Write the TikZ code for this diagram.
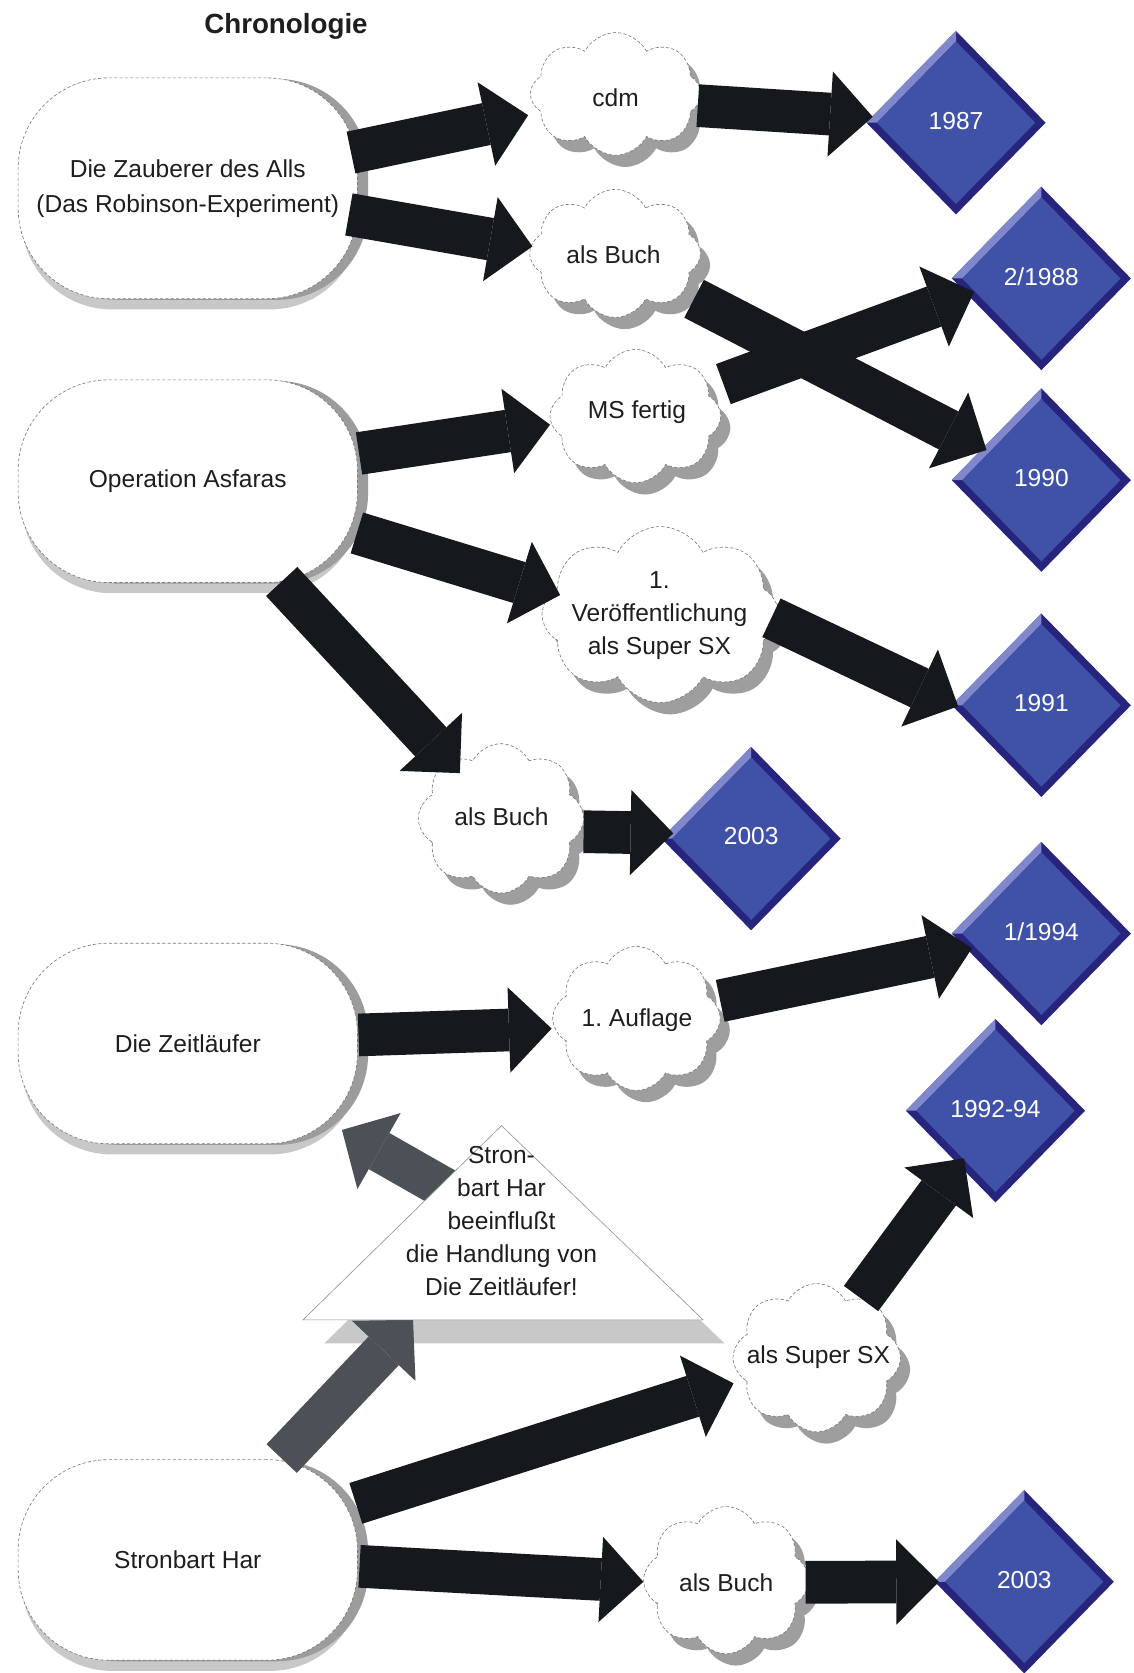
\documentclass[tikz,border=0pt]{standalone}
\usepackage{fontspec}
\setmainfont{Liberation Sans}
\usetikzlibrary{shapes.geometric,shapes.symbols,shadows,calc,arrows.meta}
\frenchspacing
\definecolor{arrblack}{HTML}{15181C}
\definecolor{arrgray}{HTML}{4B5157}
\definecolor{navy}{HTML}{26247C}
\definecolor{dblue}{HTML}{4052A8}
\definecolor{bevel}{HTML}{8088CC}
\definecolor{shlight}{HTML}{C8C8C8}
\definecolor{shdark}{HTML}{9C9C9C}
\definecolor{cloudsh}{HTML}{9E9E9E}
\definecolor{outl}{HTML}{7A7A7A}
\definecolor{txt}{HTML}{1E1E1E}
\tikzset{
  lbl/.style={font=\fontsize{23}{31}\selectfont, text=txt, align=center, inner sep=0pt},
  box/.style={rectangle, rounded corners=85pt, minimum width=318pt, fill=white, draw=outl,
     dash pattern=on 3pt off 2pt, line width=0.6pt, align=center, text=txt,
     font=\fontsize{23}{33}\selectfont,
     general shadow={shadow xshift=3pt, shadow yshift=-10pt, fill=shlight, draw=none},
     general shadow={shadow xshift=10pt, shadow yshift=-1pt, fill=shdark, draw=none}},
  cloudbox/.style={cloud, cloud puffs=8, cloud puff arc=125, cloud ignores aspect, inner sep=0pt,
     fill=white, draw=outl, dash pattern=on 3pt off 2pt, line width=0.6pt,
     general shadow={shadow xshift=9pt, shadow yshift=-11pt, fill=cloudsh, draw=none}},
  ydiam/.style={diamond, minimum width=168pt, minimum height=172pt, inner sep=0pt, fill=navy},
  ytxt/.style={font=\fontsize{23}{31}\selectfont, text=white, inner sep=0pt},
  blk/.style={draw=arrblack, line width=40pt, -{Triangle[length=40pt,width=80pt,line width=0pt]}},
  gblk/.style={draw=arrgray, line width=39pt, -{Triangle[length=40pt,width=82pt,line width=0pt]}},
}
\newcommand\ydia[3]{%
  \node[ydiam] (#1) at (#2) {};
  \fill[bevel] (#1.west) -- (#1.north) -- ($(#1.north)+(0,10)$) -- ($(#1.west)+(10,0)$) -- cycle;
  \fill[dblue] ($(#1.west)+(10,0)$) -- ($(#1.north)+(0,10)$) -- ($(#1.east)+(-10,0)$) -- ($(#1.south)+(0,-10)$) -- cycle;
  \node[ytxt] (#1t) at ($(#1)+(0,-2)$) {#3};
}
\begin{document}
\begin{tikzpicture}[x=1pt,y=-1pt]
\useasboundingbox (0,0) rectangle (1062,1568);
\fill[white] (0,0) rectangle (1062,1568);

\node[font=\bfseries\fontsize{26}{30}\selectfont, text=txt, inner sep=0pt] (title) at (268,25) {Chronologie};

% triangle shadow
\coordinate (tA) at (470,1055);
\coordinate (tL) at (284,1237);
\coordinate (tR) at (659,1237);
\fill[shlight] ($(tA)+(20,22)$) -- ($(tL)+(20,22)$) -- ($(tR)+(20,22)$) -- cycle;

% boxes
\node[box, minimum height=207pt] (b1) at (176,176.5) {Die Zauberer des Alls\\(Das Robinson-Experiment)};
\node[box, minimum height=190pt] (b2) at (176,451) {Operation Asfaras};
\node[box, minimum height=188pt] (b3) at (176,978) {Die Zeitläufer};
\node[box, minimum height=188pt] (b4) at (176,1462) {Stronbart Har};

% clouds
\node[cloudbox, minimum width=160pt, minimum height=115pt] (cdm) at (577,88) {};
\node[lbl] (cdmt) at (577,92) {cdm};
\node[cloudbox, minimum width=160pt, minimum height=120pt] (buch1) at (576.5,237.5) {};
\node[lbl] (buch1t) at (575,239) {als Buch};
\node[cloudbox, minimum width=160pt, minimum height=125pt] (ms) at (595.5,390) {};
\node[lbl] (mst) at (597,386) {MS fertig};
\node[cloudbox, minimum width=222pt, minimum height=165pt] (ver) at (619,576) {};
\node[lbl] (vert) at (618,577) {1.\\Veröffentlichung\\als Super SX};
\node[cloudbox, minimum width=155pt, minimum height=140pt] (buch2) at (469.5,767) {};
\node[lbl] (buch2t) at (470,765.5) {als Buch};
\node[cloudbox, minimum width=157pt, minimum height=135pt] (aufl) at (596.5,954.5) {};
\node[lbl] (auflt) at (597,956) {1. Auflage};
\node[cloudbox, minimum width=157pt, minimum height=139pt] (ssx) at (765.5,1272.5) {};
\node[lbl] (ssxt) at (767,1272) {als Super SX};
\node[cloudbox, minimum width=155pt, minimum height=138pt] (buch3) at (680.7,1481) {};
\node[lbl] (buch3t) at (680.6,1483.5) {als Buch};

% diamonds
\ydia{d1987}{896,115}{1987}
\ydia{d1988}{976,261}{2/1988}
\ydia{d1990}{976,450}{1990}
\ydia{d1991}{976,661}{1991}
\ydia{d2003a}{704,786}{2003}
\ydia{d1994}{976,875}{1/1994}
\ydia{d9294}{933,1041}{1992-94}
\ydia{d2003b}{960,1482.5}{2003}

% black arrows
\draw[blk] ($(b1)+(153,-33.5)$) -- ($(cdm)+(-82,20)$);
\draw[blk] ($(b1)+(151,24.5)$) -- ($(buch1)+(-77.5,-6.5)$);
\draw[blk] ($(cdm)+(77,11)$) -- ($(d1987)+(-78,-5.5)$);
\draw[blk] ($(buch1)+(74,42.5)$) -- ($(d1990)+(-51.4,-28.2)$);
\draw[blk] ($(ms)+(82.5,-30)$) -- ($(d1988)+(-63,12.5)$);
\draw[blk] ($(b2)+(160.5,-26)$) -- ($(ms)+(-80,8)$);
\draw[blk] ($(b2)+(158.5,48.5)$) -- ($(ver)+(-94,-18.3)$);
\draw[blk] ($(b2)+(88,94)$) -- ($(buch2)+(-38.5,-42.4)$);
\draw[blk] ($(ver)+(104,3)$) -- ($(d1991)+(-78,1)$);
\draw[blk] ($(buch2)+(77.5,12.5)$) -- ($(d2003a)+(-73,-5)$);
\draw[blk] ($(b3)+(160,-8)$) -- ($(aufl)+(-79.5,9.5)$);
\draw[blk] ($(aufl)+(78.5,-16.5)$) -- ($(d1994)+(-65,13.7)$);
\draw[blk] ($(ssx)+(41.5,-55.5)$) -- ($(d9294)+(-29.4,44.7)$);
\draw[blk] ($(b4)+(157.5,-53)$) -- ($(ssx)+(-78,24)$);
\draw[blk] ($(b4)+(161,6)$) -- ($(buch3)+(-77.7,1.5)$);
\draw[blk] ($(buch3)+(74.3,2)$) -- ($(d2003b)+(-80,0)$);

% gray arrows
\draw[gblk] ($(tA)!0.31!(tL)+(9,5)$) -- ($(b3)+(144.5,81)$);
\draw[gblk] ($(b4)+(88,-95)$) -- ($(tL)!0.275!(tR)$);

% triangle
\draw[fill=white, draw=outl!80, line width=0.6pt] (tA) -- (tL) -- (tR) -- cycle;
\node[lbl] (tri) at (470,1144.5) {Stron-\\bart Har\\beeinflußt\\die Handlung von\\Die Zeitläufer!};
\end{tikzpicture}
\end{document}
